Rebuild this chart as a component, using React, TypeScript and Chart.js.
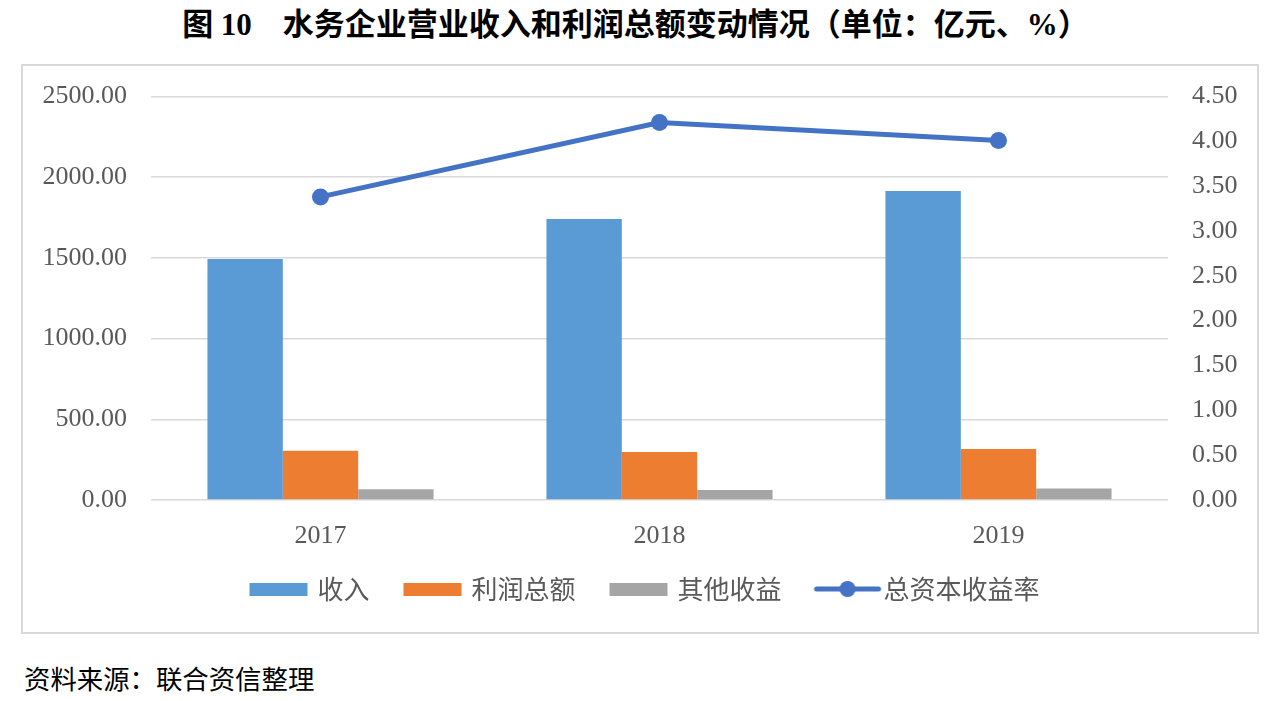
import React, { useEffect, useRef } from "react";
import { Chart, registerables } from "chart.js";

Chart.register(...registerables);

const categories = ["2017", "2018", "2019"];
const revenue = [1493, 1741, 1914];
const totalProfit = [305, 297, 316];
const otherIncome = [66, 62, 72];
const returnOnAssets = [3.38, 4.21, 4.01];
const leftTicks = [0, 500, 1000, 1500, 2000, 2500];
const rightTicks = [0, 0.5, 1, 1.5, 2, 2.5, 3, 3.5, 4, 4.5];

const seriesNames = ["收入", "利润总额", "其他收益", "总资本收益率"];
const BLUE = "#5B9BD5";
const ORANGE = "#ED7D31";
const GRAY = "#A5A5A5";
const LINE = "#4472C4";

// legend marker images (100px wide, centred on the item's box)
function rectMarker(color: string) {
  const c = document.createElement("canvas");
  c.width = 100;
  c.height = 13;
  const g = c.getContext("2d")!;
  g.fillStyle = color;
  g.fillRect(27, 0, 58, 13);
  return c;
}

function lineMarker(color: string) {
  const c = document.createElement("canvas");
  c.width = 100;
  c.height = 18;
  const g = c.getContext("2d")!;
  g.strokeStyle = color;
  g.lineWidth = 5;
  g.lineCap = "round";
  g.beginPath();
  g.moveTo(28, 9);
  g.lineTo(90, 9);
  g.stroke();
  g.fillStyle = color;
  g.beginPath();
  g.arc(59, 9, 8, 0, Math.PI * 2);
  g.fill();
  return c;
}

export default function App() {
  const canvasRef = useRef<HTMLCanvasElement | null>(null);

  useEffect(() => {
    const canvas = canvasRef.current;
    if (!canvas) return;
    const markers = [rectMarker(BLUE), rectMarker(ORANGE), rectMarker(GRAY), lineMarker(LINE)];
    const tickFont = { family: "'Liberation Serif', 'Times New Roman', serif", size: 26 };
    const chart = new Chart(canvas, {
      data: {
        labels: categories,
        datasets: [
          { type: "bar", label: seriesNames[0], data: revenue, backgroundColor: BLUE, yAxisID: "y" },
          { type: "bar", label: seriesNames[1], data: totalProfit, backgroundColor: ORANGE, yAxisID: "y" },
          { type: "bar", label: seriesNames[2], data: otherIncome, backgroundColor: GRAY, yAxisID: "y" },
          {
            type: "line",
            label: seriesNames[3],
            data: returnOnAssets,
            borderColor: LINE,
            backgroundColor: LINE,
            borderWidth: 5,
            pointRadius: 8.5,
            pointBackgroundColor: LINE,
            pointBorderWidth: 0,
            yAxisID: "y1",
          },
        ],
      } as any,
      options: {
        animation: false,
        responsive: false,
        maintainAspectRatio: false,
        layout: { padding: { left: 0, right: 0, top: 30.5, bottom: 20 } },
        datasets: {
          bar: { categoryPercentage: 0.667, barPercentage: 1 },
        } as any,
        plugins: {
          title: { display: false },
          tooltip: { enabled: false },
          legend: {
            position: "bottom",
            labels: {
              usePointStyle: true,
              pointStyleWidth: 64,
              padding: 25,
              color: "#595959",
              font: { family: "'Noto Sans CJK SC', sans-serif", size: 26 },
              generateLabels: (ch: any) => {
                const items = (Chart.defaults.plugins.legend.labels as any).generateLabels(ch);
                return items.map((it: any, i: number) => ({ ...it, pointStyle: markers[i], lineWidth: 0 }));
              },
            },
          },
        },
        scales: {
          x: {
            grid: { display: false },
            border: { display: false },
            ticks: { color: "#595959", font: tickFont, padding: 13 },
            afterFit: (s: any) => {
              s.height = 51;
            },
          },
          y: {
            position: "left",
            min: 0,
            max: 2500,
            afterBuildTicks: (s: any) => {
              s.ticks = leftTicks.map((v) => ({ value: v }));
            },
            grid: { color: "#D9D9D9", lineWidth: 1.5, drawTicks: false },
            border: { display: false },
            ticks: {
              color: "#595959",
              font: tickFont,
              padding: 24,
              callback: (v: any) => Number(v).toFixed(2),
            },
            afterFit: (s: any) => {
              s.width = 128;
              s.paddingTop = 16;
              s.paddingBottom = 16;
            },
          },
          y1: {
            position: "right",
            min: 0,
            max: 4.5,
            afterBuildTicks: (s: any) => {
              s.ticks = rightTicks.map((v) => ({ value: v }));
            },
            grid: { display: false, drawTicks: false },
            border: { display: false },
            ticks: {
              color: "#595959",
              font: tickFont,
              padding: 24,
              callback: (v: any) => Number(v).toFixed(2),
            },
            afterFit: (s: any) => {
              s.width = 89;
              s.paddingTop = 16;
              s.paddingBottom = 16;
            },
          },
        },
      } as any,
    });
    return () => chart.destroy();
  }, []);

  return (
    <div style={{ position: "fixed", left: 0, top: 0, width: 1281, height: 701, background: "#fff" }}>
      <div
        style={{
          position: "absolute",
          left: 0,
          top: 5,
          width: 1271,
          textAlign: "center",
          fontFamily: "'Liberation Serif', 'Noto Sans CJK SC', serif",
          fontWeight: "bold",
          fontSize: 31,
          lineHeight: "40px",
          color: "#000",
          whiteSpace: "pre",
        }}
      >
        {"图 10　水务企业营业收入和利润总额变动情况（单位：亿元、%）"}
      </div>
      <div
        style={{
          position: "absolute",
          left: 21,
          top: 64,
          width: 1238,
          height: 570,
          border: "2px solid #D9D9D9",
          boxSizing: "border-box",
        }}
      >
        <canvas ref={canvasRef} width={1234} height={566} style={{ display: "block", width: 1234, height: 566 }} />
      </div>
      <div
        style={{
          position: "absolute",
          left: 24,
          top: 659,
          fontFamily: "'Noto Sans CJK SC', sans-serif",
          fontSize: 26.4,
          lineHeight: "38px",
          color: "#000",
        }}
      >
        资料来源：联合资信整理
      </div>
    </div>
  );
}
